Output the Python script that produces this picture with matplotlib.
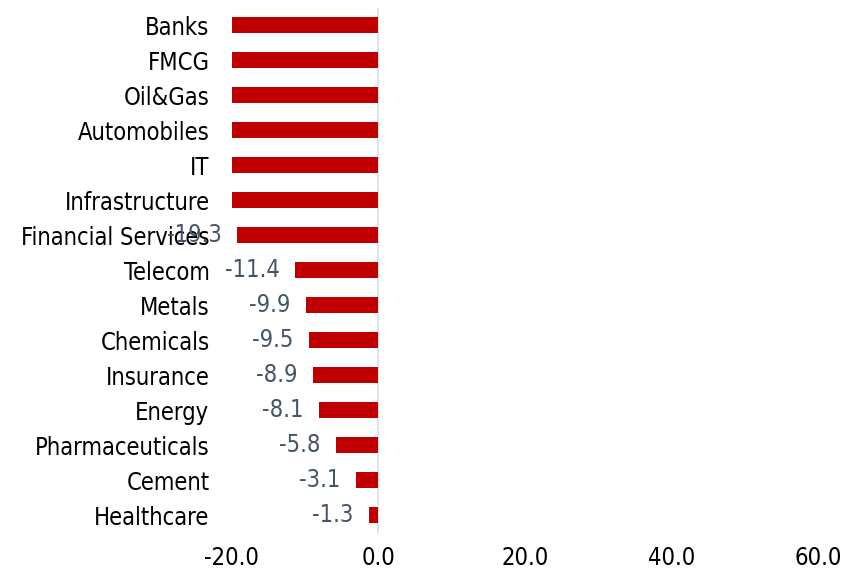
import matplotlib.pyplot as plt
import numpy as np

# sectores y variacion (%)
sectores = ['Banks', 'FMCG', 'Oil&Gas', 'Automobiles', 'IT', 'Infrastructure',
            'Financial Services', 'Telecom', 'Metals', 'Chemicals', 'Insurance',
            'Energy', 'Pharmaceuticals', 'Cement', 'Healthcare']
valores = [-32.5, -28.4, -26.1, -24.7, -22.3, -20.8,
           -19.3, -11.4, -9.9, -9.5, -8.9, -8.1, -5.8, -3.1, -1.3]
x_ticks = [-20, 0, 20, 40, 60]

plt.rcParams['font.family'] = ['DejaVu Sans']
plt.rcParams['font.stretch'] = 'condensed'

fig = plt.figure(figsize=(8.52, 5.77), dpi=100)
ax = fig.add_axes([0.272, 0.077, 0.688, 0.91])

y = np.arange(len(sectores))[::-1]
ax.barh(y, valores, height=0.48, color='#C00000')
ax.set_xlim(-20, 60)
ax.set_ylim(-0.5, len(sectores) - 0.5)

# etiquetas de valores (solo las visibles)
for yi, v in zip(y, valores):
    if v >= -20:
        ax.annotate(f'{v:.1f}', xy=(v, yi), xytext=(-11, 0), textcoords='offset points',
                    ha='right', va='center', fontsize=17, color='#44546A')

ax.set_yticks(y)
ax.set_yticklabels(sectores, fontsize=17, color='black')
ax.set_xticks(x_ticks)
ax.set_xticklabels([f'{t:.1f}' for t in x_ticks], fontsize=17, color='black')
ax.tick_params(axis='both', length=0)
ax.tick_params(axis='y', pad=16)
ax.tick_params(axis='x', pad=10)

for s in ax.spines.values():
    s.set_visible(False)
ax.axvline(0, color='#D9DDE6', linewidth=1.2, zorder=0)

fig.savefig('out.png', dpi=100)
